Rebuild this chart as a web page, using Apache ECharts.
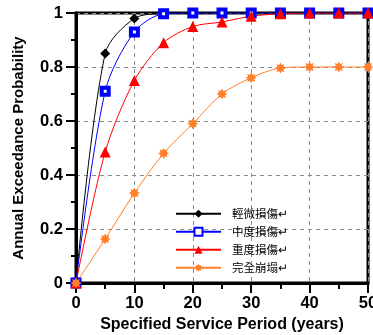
<!DOCTYPE html>
<html>
<head>
<meta charset="utf-8">
<script src="https://cdn.jsdelivr.net/npm/echarts@6/dist/echarts.min.js"></script>
<style>
html,body{margin:0;padding:0;background:#fff;}
#chart{width:373px;height:335px;}
</style>
</head>
<body>
<div id="chart"></div>
<script>
var years = [0, 5, 10, 15, 20, 25, 30, 35, 40, 45, 50];
var slight   = [0, 0.85, 0.98, 0.998, 1, 1, 1, 1, 1, 1, 1];
var moderate = [0, 0.71, 0.93, 0.997, 1, 1, 1, 1, 1, 1, 1];
var extensive= [0, 0.485, 0.75, 0.89, 0.95, 0.967, 0.988, 0.997, 1, 1, 1];
var complete = [0, 0.163, 0.333, 0.48, 0.59, 0.70, 0.76, 0.796, 0.80, 0.80, 0.80];
var names = ['輕微損傷↵', '中度損傷↵', '重度損傷↵', '完全崩塌↵'];
var colors = ['#000000', '#0000ff', '#ff0000', '#ff7f2a'];

var star = 'path://M0,-10L2.4,-5.6L7.07,-7.07L5.6,-2.4L10,0L5.6,2.4L7.07,7.07L2.4,5.6L0,10L-2.4,5.6L-7.07,7.07L-5.6,2.4L-10,0L-5.6,-2.4L-7.07,-7.07L-2.4,-5.6Z';

function pairs(ys){ return years.map(function(x,i){ return [x, ys[i]]; }); }

var chart = echarts.init(document.getElementById('chart'), null, {renderer:'canvas'});
var axisFont = {fontFamily:'Liberation Sans, Arial, sans-serif', fontWeight:'bold', color:'#000'};
chart.setOption({
  animation:false,
  backgroundColor:'#fff',
  grid:{left:76, right:5, top:13, bottom:52, outerBoundsMode:'none', containLabel:false,
        show:true, borderColor:'#000', borderWidth:3, backgroundColor:'transparent'},
  legend:{
    orient:'vertical', left:170, top:203, itemWidth:45, itemHeight:10, itemGap:6.5,
    data:names,
    textStyle:{fontFamily:'Noto Sans CJK TC', fontSize:11.5, color:'#000', padding:[0,0,0,6]}
  },
  xAxis:{
    type:'value', min:0, max:50, interval:10,
    name:'Specified Service Period (years)', nameLocation:'middle', nameGap:31,
    nameTextStyle:Object.assign({fontSize:16, verticalAlign:'top'}, axisFont),
    axisLine:{show:true, onZero:false, lineStyle:{color:'#000', width:3}},
    axisTick:{show:true, inside:false, length:10, lineStyle:{color:'#000', width:2}},
    minorTick:{show:true, splitNumber:2, length:6, lineStyle:{color:'#000', width:2}},
    axisLabel:Object.assign({fontSize:16.5, margin:12, hideOverlap:false}, axisFont),
    splitLine:{show:true, lineStyle:{color:'#8c8c8c', type:[4,4], width:1}}
  },
  yAxis:{
    type:'value', min:0, max:1, interval:0.2,
    name:'Annual Exceedance Probability', nameLocation:'middle', nameGap:50,
    nameTextStyle:Object.assign({fontSize:15}, axisFont),
    axisLine:{show:true, onZero:false, lineStyle:{color:'#000', width:3}},
    axisTick:{show:true, inside:false, length:10, lineStyle:{color:'#000', width:2}},
    minorTick:{show:true, splitNumber:2, length:5, lineStyle:{color:'#000', width:2}},
    axisLabel:Object.assign({fontSize:16.5, margin:13}, axisFont),
    splitLine:{show:true, lineStyle:{color:'#8c8c8c', type:[4,4], width:1}}
  },
  series:[
    {name:names[0], type:'line', data:pairs(slight), smooth:0.3, symbol:'diamond', symbolSize:10,
     lineStyle:{color:colors[0], width:1}, itemStyle:{color:colors[0]}},
    {name:names[1], type:'line', data:pairs(moderate), smooth:0.3, symbol:'rect', symbolSize:7,
     lineStyle:{color:colors[1], width:1}, itemStyle:{color:'#ffffff', borderColor:colors[1], borderWidth:4}},
    {name:names[2], type:'line', data:pairs(extensive), smooth:0.3, symbol:'triangle', symbolSize:11,
     lineStyle:{color:colors[2], width:1}, itemStyle:{color:colors[2]}},
    {name:names[3], type:'line', data:pairs(complete), smooth:0.3, symbol:star, symbolSize:11,
     lineStyle:{color:colors[3], width:1}, itemStyle:{color:colors[3]}}
  ]
});
</script>
</body>
</html>
